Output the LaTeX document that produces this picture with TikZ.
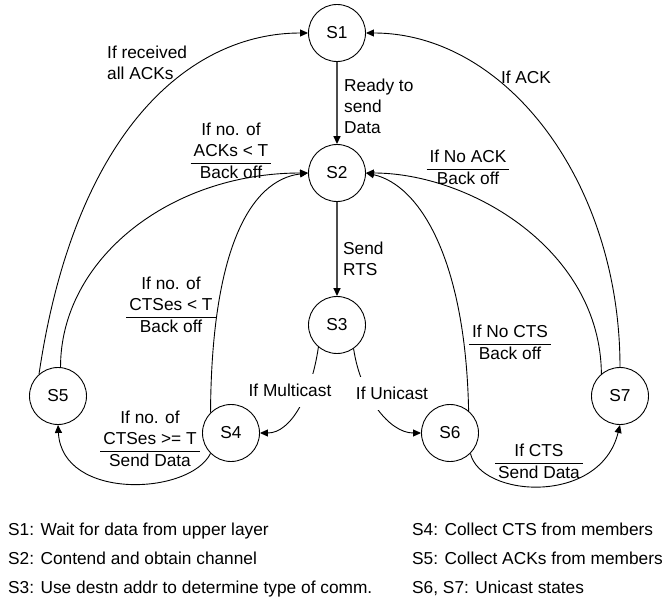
\documentclass[tikz,border=0pt]{standalone}
\usepackage{fontspec}
\setmainfont{Liberation Sans}
\usetikzlibrary{arrows.meta}
\setlength{\arrayrulewidth}{0.9pt}
% left-aligned stack of lines
\newcommand\leftlines[1]{\begin{tabular}{@{}l@{}}#1\end{tabular}}
% condition over a rule, action below it
\newcommand\guardtext[2]{\begin{tabular}{@{\hspace{3pt}}c@{\hspace{3pt}}}#1\\\hline #2\end{tabular}}
\begin{document}
\begin{tikzpicture}[x=1pt,y=-1pt,
  every node/.style={font=\fontsize{17.3}{21}\selectfont, inner sep=0pt},
  state/.style={circle, draw, line width=0.9pt, minimum size=57pt},
  link/.style={line width=0.9pt, -{Triangle[length=8pt,width=7pt]}},
  trunk/.style={line width=1.5pt, draw=black!70, -{Triangle[length=8pt,width=7pt,color=black]}},
  tag/.style={fill=white, inner xsep=3pt, minimum height=33pt},
  legend/.style={anchor=west, font=\fontsize{17.3}{29}\selectfont},
]
\useasboundingbox (0,0) rectangle (662,607);

% states
\node[state] (S1) at (337,33)  {S1};
\node[state] (S2) at (337,173) {S2};
\node[state] (S3) at (337,325) {S3};
\node[state] (S4) at (231,433) {S4};
\node[state] (S5) at (58,396)  {S5};
\node[state] (S6) at (450,433) {S6};
\node[state] (S7) at (620,396) {S7};

% main path
\draw[trunk] (S1) -- (S2);
\draw[trunk] (S2) -- (S3);

% transitions
\draw[link] (S5.131) .. controls +(36,-244) and +(-118,0) .. (S1.west);
\draw[link] (S7.90)  .. controls +(0,-185) and +(140,0) .. (S1.east);
\draw[link] (S5.85)  .. controls +(0,-108) and +(-138,0) .. (S2.west);
\draw[link] (S4.135) .. controls +(1,-163) and +(-58,7) .. (S2.west);
\draw[link] (S6.50)  .. controls +(-3,-151) and +(54,12) .. (S2.east);
\draw[link] (S7.130) .. controls +(-1,-124) and +(104,0) .. (S2.east);
\draw[link] (S3.230) .. controls +(-7,48) and +(31,0) .. (S4.east);
\draw[link] (S3.305) .. controls +(7,47) and +(-32,0) .. (S6.west);
\draw[link] (S4.225) .. controls +(-21,42) and +(4,76) .. (S5.south);
\draw[link] (S6.315) .. controls +(10,44) and +(-20,81) .. (S7.south);

% transition labels
\node[anchor=west] (lready) at (344,108) {\leftlines{Ready to\\send\\Data}};
\node[anchor=west] (lrts) at (343,260.5) {\leftlines{Send\\RTS}};
\node[anchor=west] (lall) at (107,64.5) {\leftlines{If received\\all ACKs}};
\node (lack) at (526,77) {If ACK};
\node (lackt) at (231,153) {\guardtext{If no. of\\ACKs < T}{Back off}};
\node (lctst) at (171,307) {\guardtext{If no. of\\CTSes < T}{Back off}};
\node (lctsge) at (150,441) {\guardtext{If no. of\\CTSes >= T}{Send Data}};
\node (lnoack) at (468,169) {\guardtext{If No ACK}{Back off}};
\node (lnocts) at (510,344.5) {\guardtext{If No CTS}{Back off}};
\node (lcts) at (539,463) {\guardtext{If CTS}{Send Data}};
\node[tag] (lmulti) at (290,390) {If Multicast};
\node[tag] (luni) at (392,393) {If Unicast};

% legend
\node[legend] (keyl) at (8,559) {\leftlines{S1: Wait for data from upper layer\\
  S2: Contend and obtain channel\\
  S3: Use destn addr to determine type of comm.}};
\node[legend] (keyr) at (412,559) {\leftlines{S4: Collect CTS from members\\
  S5: Collect ACKs from members\\
  S6, S7: Unicast states}};
\end{tikzpicture}
\end{document}
